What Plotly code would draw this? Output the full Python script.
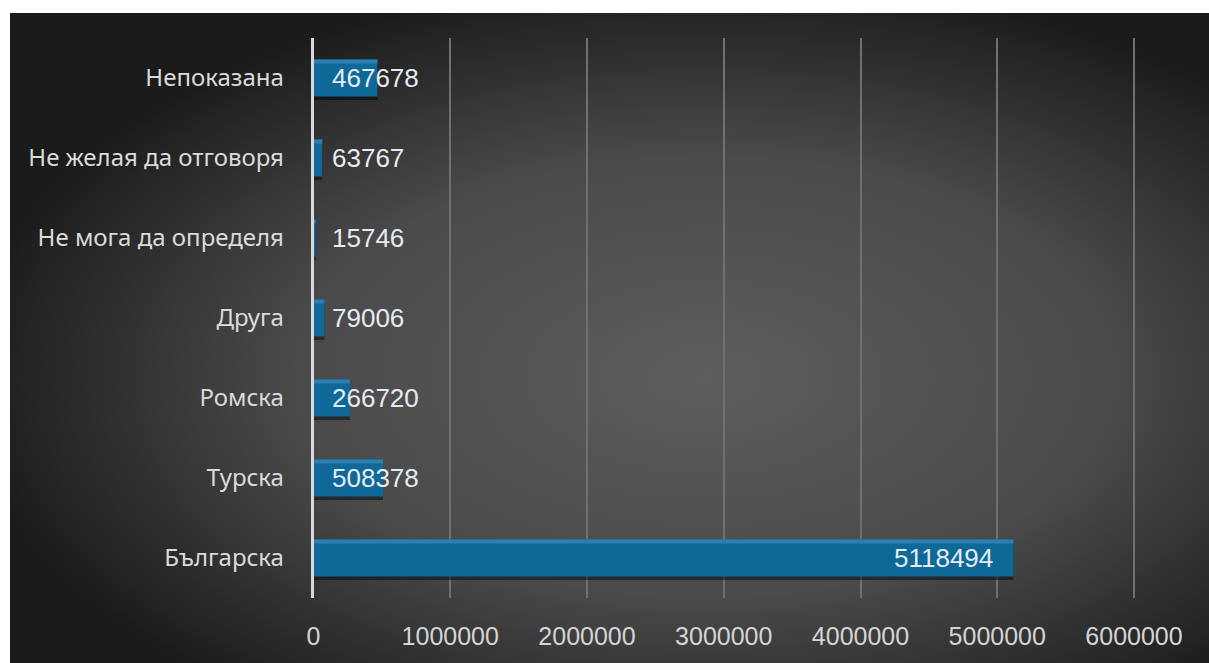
import base64
import plotly.graph_objects as go

# ---- data ----
categories = ["Българска", "Турска", "Ромска", "Друга",
              "Не мога да определя", "Не желая да отговоря", "Непоказана"]
values = [5118494, 508378, 266720, 79006, 15746, 63767, 467678]
x_ticks = [0, 1000000, 2000000, 3000000, 4000000, 5000000, 6000000]
x_tick_labels = [str(v) for v in x_ticks]

W, H = 1209, 663
BAR_W = 0.46

# background radial gradient as svg image
svg = f'''<svg xmlns="http://www.w3.org/2000/svg" width="{W}" height="{H}" viewBox="0 0 {W} {H}" preserveAspectRatio="none">
<defs><radialGradient id="g" cx="0.58" cy="0.56" r="0.62" gradientUnits="objectBoundingBox">
<stop offset="0" stop-color="#5d5d5d"/><stop offset="0.55" stop-color="#4a4a4a"/><stop offset="1" stop-color="#1b1b1b"/></radialGradient></defs>
<rect width="{W}" height="{H}" fill="url(#g)"/></svg>'''
bg = "data:image/svg+xml;base64," + base64.b64encode(svg.encode()).decode()

fig = go.Figure()
# shadow
fig.add_trace(go.Bar(y=categories, x=values, orientation="h",
                     width=BAR_W, offset=-BAR_W / 2 - 0.045,
                     marker=dict(color="rgba(0,0,0,0.45)", line_width=0),
                     hoverinfo="skip", showlegend=False))
# main bar
fig.add_trace(go.Bar(y=categories, x=values, orientation="h",
                     width=BAR_W, offset=-BAR_W / 2,
                     marker=dict(color="#0e6898", line_width=0),
                     showlegend=False))
# top highlight
fig.add_trace(go.Bar(y=categories, x=values, orientation="h",
                     width=0.05, offset=BAR_W / 2 - 0.05,
                     marker=dict(color="#2a80ae", line_width=0),
                     hoverinfo="skip", showlegend=False))

for c, v in zip(categories, values):
    big = v > 1000000
    fig.add_annotation(x=v if big else 0, y=c, xref="x", yref="y",
                       text=str(v), showarrow=False,
                       xanchor="right" if big else "left",
                       xshift=-18 if big else 16,
                       font=dict(family="Liberation Sans, Arial", size=26, color="#e4ecf2"))

XMAX = 6000000 * 1.002
x0 = 313.5
x1 = x0 + (1134 - x0) * 1.002
ytop, ybot = 38, 598
fig.update_layout(
    width=W, height=H,
    margin=dict(l=0, r=0, t=0, b=0, pad=0),
    paper_bgcolor="white", plot_bgcolor="rgba(0,0,0,0)",
    barmode="overlay",
    images=[dict(source=bg, xref="paper", yref="paper",
                 x=10 / W, y=1 - 13 / H, sizex=(W - 10) / W, sizey=(H - 13) / H,
                 xanchor="left", yanchor="top", sizing="stretch", layer="below")],
    xaxis=dict(domain=[x0 / W, x1 / W], range=[0, XMAX], automargin=False,
               tickvals=x_ticks, ticktext=x_tick_labels,
               showgrid=True, gridcolor="#707070", gridwidth=1.5,
               zeroline=False, showline=False, ticks="",
               ticklabelstandoff=21,
               tickfont=dict(family="Liberation Sans, Arial", size=25, color="#d4d4d4")),
    yaxis=dict(domain=[(H - ybot) / H, (H - ytop) / H], automargin=False,
               categoryorder="array", categoryarray=categories,
               range=[-0.5, 6.5],
               showgrid=False, zeroline=False,
               showline=True, linecolor="#d8d8d8", linewidth=2.5,
               ticks="", ticklabelstandoff=22,
               tickfont=dict(family="Noto Sans", size=24, color="#dadada")),
)

fig.write_html("out.html", config={"displayModeBar": False},
               post_script="document.body.style.margin='0';document.body.style.overflow='hidden';")
